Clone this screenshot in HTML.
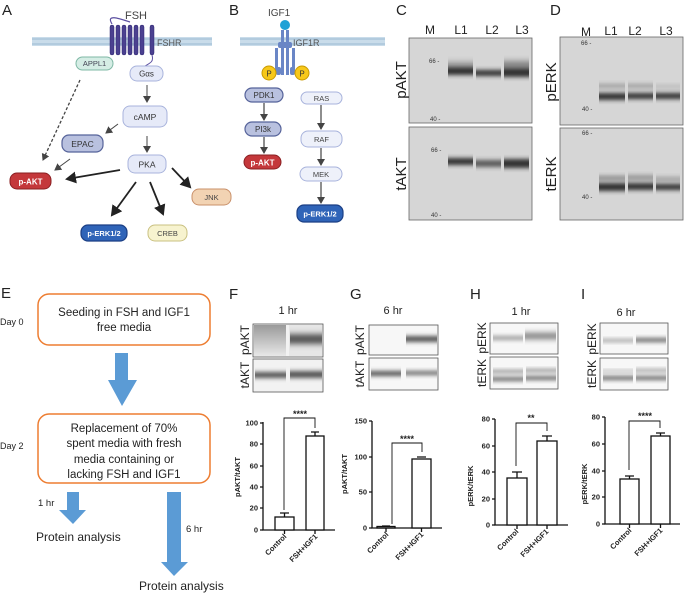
<!DOCTYPE html>
<html><head><meta charset="utf-8"><style>
html,body{margin:0;padding:0;background:#fff}
svg{display:block;font-family:"Liberation Sans",Arial,sans-serif}
</style></head><body>
<svg width="685" height="594" viewBox="0 0 685 594" xmlns="http://www.w3.org/2000/svg">
<defs>
<filter id="b1" x="-20%" y="-100%" width="140%" height="300%"><feGaussianBlur stdDeviation="0.3 2"/></filter>
<filter id="b2" x="-20%" y="-100%" width="140%" height="300%"><feGaussianBlur stdDeviation="0.3 3"/></filter>
<marker id="ah" markerWidth="8" markerHeight="8" refX="6" refY="4" orient="auto" markerUnits="userSpaceOnUse"><path d="M0,0 L7,4 L0,8 z" fill="#444"/></marker>
<marker id="ahb" markerWidth="12" markerHeight="12" refX="9" refY="6" orient="auto" markerUnits="userSpaceOnUse"><path d="M0,0 L11,6 L0,12 z" fill="#222"/></marker>
<linearGradient id="fl" x1="0" y1="0" x2="0" y2="1"><stop offset="0" stop-color="#9a9a9a"/><stop offset="1" stop-color="#e8e8e8"/></linearGradient>
</defs>

<g font-size="15" fill="#222">
<text x="2" y="15">A</text><text x="229" y="15">B</text><text x="396" y="15">C</text><text x="550" y="15">D</text>
<text x="1" y="298">E</text><text x="229" y="299">F</text><text x="350" y="299">G</text><text x="470" y="299">H</text><text x="581" y="299">I</text>
</g>

<!-- Panel A -->
<rect x="32" y="37" width="180" height="9" fill="#c9dcea"/>
<line x1="32" y1="39" x2="212" y2="39" stroke="#9cbad2" stroke-width="1"/>
<line x1="32" y1="44" x2="212" y2="44" stroke="#9cbad2" stroke-width="1"/>
<path d="M112,24 C106,14 118,18 130,22" fill="none" stroke="#5a4ea0" stroke-width="1.2"/>
<g fill="#4b4190" stroke="#2e2870" stroke-width="0.5">
<rect x="110" y="25" width="4" height="30" rx="2"/><rect x="116" y="25" width="4" height="30" rx="2"/>
<rect x="122" y="25" width="4" height="30" rx="2"/><rect x="128" y="25" width="4" height="30" rx="2"/>
<rect x="134" y="25" width="4" height="30" rx="2"/><rect x="140" y="25" width="4" height="30" rx="2"/>
<rect x="150" y="25" width="4" height="30" rx="2"/>
</g>
<path d="M152,55 C154,62 150,63 145,66" fill="none" stroke="#5a4ea0" stroke-width="1"/>
<text x="125" y="19" font-size="11" fill="#444">FSH</text>
<text x="157" y="46" font-size="9" fill="#555">FSHR</text>

<g font-size="7.5" text-anchor="middle">
<rect x="76" y="57" width="37" height="13" rx="6.5" fill="#d5ede5" stroke="#7fb8a5"/><text x="94.5" y="66" fill="#445">APPL1</text>
<rect x="130" y="66" width="33" height="15" rx="7" fill="#e6eaf8" stroke="#a8b3dc"/><text x="146.5" y="76.5" fill="#333" font-size="8">Gαs</text>
<rect x="123" y="106" width="44" height="21" rx="7" fill="#e6eaf8" stroke="#a8b3dc"/><text x="145" y="120" fill="#333" font-size="8.5">cAMP</text>
<rect x="62" y="135" width="41" height="17" rx="7" fill="#b9c1df" stroke="#56639a" stroke-width="1.2"/><text x="82.5" y="147" fill="#333" font-size="8.5">EPAC</text>
<rect x="128" y="155" width="38" height="18" rx="7" fill="#e6eaf8" stroke="#a8b3dc"/><text x="147" y="167.5" fill="#333" font-size="8.5">PKA</text>
<rect x="10" y="173" width="41" height="16" rx="7" fill="#c4383b" stroke="#8a1f22"/><text x="30.5" y="184.5" fill="#fff" font-weight="bold" font-size="8">p-AKT</text>
<rect x="192" y="189" width="39" height="16" rx="7" fill="#f2d3b3" stroke="#c9906a"/><text x="211.5" y="200" fill="#444">JNK</text>
<rect x="81" y="225" width="46" height="16" rx="7" fill="#2f64b8" stroke="#1b3f85" stroke-width="1.2"/><text x="104" y="236" fill="#fff" font-weight="bold" font-size="7.5">p-ERK1/2</text>
<rect x="148" y="225" width="39" height="16" rx="7" fill="#f7f3cf" stroke="#c9c080"/><text x="167.5" y="236" fill="#444">CREB</text>
</g>
<g stroke="#444" stroke-width="1" fill="none">
<line x1="147" y1="85" x2="147" y2="102" marker-end="url(#ah)"/>
<line x1="118" y1="124" x2="106" y2="133" marker-end="url(#ah)"/>
<line x1="147" y1="136" x2="147" y2="152" marker-end="url(#ah)"/>
<line x1="70" y1="159" x2="55" y2="170" marker-end="url(#ah)"/>
<line x1="80" y1="80" x2="43" y2="160" stroke-dasharray="3,2" stroke-width="1.3" marker-end="url(#ah)"/>
</g>
<g stroke="#222" stroke-width="1.8" fill="none">
<line x1="120" y1="170" x2="67" y2="179" marker-end="url(#ahb)"/>
<line x1="136" y1="182" x2="112" y2="215" marker-end="url(#ahb)"/>
<line x1="150" y1="182" x2="163" y2="214" marker-end="url(#ahb)"/>
<line x1="172" y1="168" x2="190" y2="187" marker-end="url(#ahb)"/>
</g>

<!-- Panel B -->
<rect x="240" y="37" width="145" height="9" fill="#c9dcea"/>
<line x1="240" y1="39" x2="385" y2="39" stroke="#9cbad2"/>
<line x1="240" y1="44" x2="385" y2="44" stroke="#9cbad2"/>
<text x="268" y="16" font-size="10" fill="#444">IGF1</text>
<circle cx="285" cy="25" r="5" fill="#1ea1d6"/>
<g fill="#6a86c6">
<rect x="281" y="30" width="3" height="45"/><rect x="286" y="30" width="3" height="45"/>
<rect x="278" y="42" width="14" height="6" rx="2"/>
<rect x="275" y="48" width="3" height="25"/><rect x="292" y="48" width="3" height="25"/>
<rect x="276" y="67" width="5" height="8" rx="2"/><rect x="290" y="67" width="5" height="8" rx="2"/>
</g>
<text x="293" y="46" font-size="9" fill="#555">IGF1R</text>
<circle cx="269" cy="73" r="7" fill="#f7c81a" stroke="#c99a00"/><text x="269" y="76.5" font-size="8" text-anchor="middle" fill="#333">P</text>
<circle cx="302" cy="73" r="7" fill="#f7c81a" stroke="#c99a00"/><text x="302" y="76.5" font-size="8" text-anchor="middle" fill="#333">P</text>
<g font-size="8" text-anchor="middle">
<rect x="245" y="88" width="38" height="14" rx="7" fill="#b9c1df" stroke="#56639a" stroke-width="1.2"/><text x="264" y="98" fill="#333">PDK1</text>
<rect x="245" y="122" width="36" height="14" rx="7" fill="#b9c1df" stroke="#56639a" stroke-width="1.2"/><text x="263" y="132" fill="#333">PI3k</text>
<rect x="244" y="155" width="37" height="14" rx="7" fill="#c4383b" stroke="#8a1f22"/><text x="262.5" y="165.5" fill="#fff" font-weight="bold">p-AKT</text>
<rect x="301" y="92" width="41" height="12" rx="6" fill="#eef1fa" stroke="#a8b3dc"/><text x="321.5" y="101" fill="#444" font-size="7.5">RAS</text>
<rect x="301" y="131" width="41" height="16" rx="7" fill="#eef1fa" stroke="#a8b3dc"/><text x="321.5" y="142" fill="#444" font-size="7.5">RAF</text>
<rect x="300" y="167" width="42" height="14" rx="7" fill="#eef1fa" stroke="#a8b3dc"/><text x="321" y="177" fill="#444" font-size="7.5">MEK</text>
<rect x="297" y="205" width="46" height="17" rx="7" fill="#2f64b8" stroke="#1b3f85" stroke-width="1.2"/><text x="320" y="216.5" fill="#fff" font-weight="bold" font-size="7.5">p-ERK1/2</text>
</g>
<g stroke="#444" stroke-width="1.2">
<line x1="264" y1="103" x2="264" y2="120" marker-end="url(#ah)"/>
<line x1="264" y1="137" x2="264" y2="153" marker-end="url(#ah)"/>
<line x1="321" y1="105" x2="321" y2="129" marker-end="url(#ah)"/>
<line x1="321" y1="148" x2="321" y2="165" marker-end="url(#ah)"/>
<line x1="321" y1="182" x2="321" y2="203" marker-end="url(#ah)"/>
</g>

<!-- Panel C -->
<g font-size="12" fill="#222" text-anchor="middle">
<text x="430" y="34">M</text><text x="461" y="34">L1</text><text x="492" y="34">L2</text><text x="522" y="34">L3</text>
<text x="586" y="36">M</text><text x="611" y="35">L1</text><text x="635" y="35">L2</text><text x="666" y="35">L3</text>
</g>
<rect x="409" y="38" width="123" height="85" fill="#d6d6d6" stroke="#666" stroke-width="0.8"/>
<rect x="409" y="127" width="123" height="93" fill="#d6d6d6" stroke="#666" stroke-width="0.8"/>
<g fill="#333" font-size="6"><text x="429" y="63">66 -</text><text x="430" y="121">40 -</text><text x="431" y="152">66 -</text><text x="431" y="217">40 -</text></g>
<g fill="#333">
<rect x="448" y="67" width="25" height="8" filter="url(#b1)"/><rect x="448" y="62" width="25" height="6" opacity="0.4" filter="url(#b2)"/>
<rect x="476" y="70" width="25" height="6" filter="url(#b1)"/>
<rect x="504" y="68" width="25" height="9" filter="url(#b1)"/><rect x="504" y="61" width="25" height="8" opacity="0.5" filter="url(#b2)"/>
<rect x="448" y="158" width="25" height="7" filter="url(#b1)"/>
<rect x="476" y="160" width="25" height="7" opacity="0.75" filter="url(#b1)"/>
<rect x="504" y="159" width="25" height="9" filter="url(#b1)"/>
</g>
<text transform="translate(406,80) rotate(-90)" font-size="15" text-anchor="middle" fill="#222">pAKT</text>
<text transform="translate(406,174) rotate(-90)" font-size="15" text-anchor="middle" fill="#222">tAKT</text>

<!-- Panel D -->
<rect x="560" y="37" width="123" height="88" fill="#d6d6d6" stroke="#666" stroke-width="0.8"/>
<rect x="560" y="128" width="123" height="92" fill="#d6d6d6" stroke="#666" stroke-width="0.8"/>
<g fill="#333" font-size="6"><text x="581" y="45">66 -</text><text x="582" y="111">40 -</text><text x="582" y="135">66 -</text><text x="582" y="199">40 -</text></g>
<g fill="#333">
<rect x="599" y="93" width="26" height="7" filter="url(#b1)"/><rect x="599" y="84" width="26" height="4" opacity="0.35" filter="url(#b1)"/>
<rect x="628" y="93" width="25" height="6" filter="url(#b1)"/><rect x="628" y="84" width="25" height="4" opacity="0.35" filter="url(#b1)"/>
<rect x="656" y="93" width="24" height="6" filter="url(#b1)"/><rect x="656" y="85" width="24" height="3" opacity="0.2" filter="url(#b1)"/>
<rect x="599" y="183" width="26" height="8" filter="url(#b1)"/><rect x="599" y="176" width="26" height="4" opacity="0.5" filter="url(#b1)"/>
<rect x="628" y="183" width="25" height="7" filter="url(#b1)"/><rect x="628" y="175" width="25" height="5" opacity="0.4" filter="url(#b1)"/>
<rect x="656" y="184" width="24" height="6" filter="url(#b1)"/><rect x="656" y="177" width="24" height="4" opacity="0.35" filter="url(#b1)"/>
</g>
<text transform="translate(556,82) rotate(-90)" font-size="15" text-anchor="middle" fill="#222">pERK</text>
<text transform="translate(556,174) rotate(-90)" font-size="15" text-anchor="middle" fill="#222">tERK</text>

<!-- Panel E -->
<g>
<rect x="38" y="294" width="172" height="51" rx="11" fill="#fff" stroke="#ed7d31" stroke-width="1.5"/>
<g font-size="11.5" fill="#222" text-anchor="middle"><text x="124" y="316">Seeding in FSH and IGF1</text><text x="124" y="331">free media</text></g>
<text x="0" y="325" font-size="9" fill="#222">Day 0</text>
<path d="M115,353 L128,353 L128,380 L137,380 L122,406 L108,380 L115,380 z" fill="#5b9bd5"/>
<rect x="38" y="414" width="172" height="69" rx="11" fill="#fff" stroke="#ed7d31" stroke-width="1.5"/>
<g font-size="11.5" fill="#222" text-anchor="middle"><text x="124" y="432">Replacement of 70%</text><text x="124" y="447">spent media with fresh</text><text x="124" y="463">media containing or</text><text x="124" y="478">lacking FSH and IGF1</text></g>
<text x="0" y="449" font-size="9" fill="#222">Day 2</text>
<path d="M67,492 L79,492 L79,510 L86,510 L73,524 L59,510 L67,510 z" fill="#5b9bd5"/>
<text x="38" y="506" font-size="9.5" fill="#222">1 hr</text>
<text x="36" y="541" font-size="12" fill="#222">Protein analysis</text>
<path d="M167,492 L181,492 L181,562 L188,562 L174,576 L161,562 L167,562 z" fill="#5b9bd5"/>
<text x="186" y="532" font-size="9.5" fill="#222">6 hr</text>
<text x="139" y="590" font-size="12" fill="#222">Protein analysis</text>
</g>

<!-- Blots F -->
<text x="288" y="314" font-size="11" text-anchor="middle" fill="#222">1 hr</text>
<rect x="253" y="324" width="70" height="33" fill="#f2f2f2" stroke="#555" stroke-width="0.8"/>
<rect x="254" y="325" width="32" height="31" fill="url(#fl)"/>
<rect x="289" y="325" width="33" height="31" fill="#e6e6e6"/>
<rect x="290" y="334" width="32" height="10" fill="#555" filter="url(#b2)"/>
<rect x="253" y="359" width="70" height="33" fill="#f2f2f2" stroke="#555" stroke-width="0.8"/>
<rect x="255" y="372" width="31" height="6" fill="#555" filter="url(#b1)"/>
<rect x="290" y="371" width="32" height="7" fill="#555" filter="url(#b1)"/>
<text transform="translate(249,340) rotate(-90)" font-size="12" text-anchor="middle" fill="#222">pAKT</text>
<text transform="translate(249,375) rotate(-90)" font-size="12" text-anchor="middle" fill="#222">tAKT</text>
<!-- Blots G -->
<text x="393" y="314" font-size="11" text-anchor="middle" fill="#222">6 hr</text>
<rect x="369" y="325" width="69" height="30" fill="#f7f7f7" stroke="#555" stroke-width="0.8"/>
<rect x="406" y="336" width="31" height="6" fill="#555" filter="url(#b1)"/>
<rect x="369" y="358" width="69" height="32" fill="#f7f7f7" stroke="#555" stroke-width="0.8"/>
<rect x="371" y="371" width="30" height="5" fill="#555" filter="url(#b1)"/>
<rect x="406" y="371" width="31" height="4" fill="#666" filter="url(#b1)"/>
<text transform="translate(364,340) rotate(-90)" font-size="12" text-anchor="middle" fill="#222">pAKT</text>
<text transform="translate(364,374) rotate(-90)" font-size="12" text-anchor="middle" fill="#222">tAKT</text>
<!-- Blots H -->
<text x="521" y="315" font-size="11" text-anchor="middle" fill="#222">1 hr</text>
<rect x="490" y="323" width="68" height="31" fill="#f7f7f7" stroke="#555" stroke-width="0.8"/>
<rect x="493" y="336" width="30" height="4" fill="#999" filter="url(#b1)"/>
<rect x="525" y="333" width="31" height="6" fill="#777" filter="url(#b2)"/>
<rect x="490" y="357" width="68" height="32" fill="#f7f7f7" stroke="#555" stroke-width="0.8"/>
<rect x="493" y="370" width="30" height="3" fill="#888" filter="url(#b1)"/><rect x="493" y="377" width="30" height="4" fill="#666" filter="url(#b1)"/>
<rect x="526" y="369" width="30" height="3" fill="#888" filter="url(#b1)"/><rect x="526" y="376" width="30" height="4" fill="#666" filter="url(#b1)"/>
<text transform="translate(486,338) rotate(-90)" font-size="12" text-anchor="middle" fill="#222">pERK</text>
<text transform="translate(486,373) rotate(-90)" font-size="12" text-anchor="middle" fill="#222">tERK</text>
<!-- Blots I -->
<text x="626" y="316" font-size="11" text-anchor="middle" fill="#222">6 hr</text>
<rect x="600" y="323" width="68" height="31" fill="#f7f7f7" stroke="#555" stroke-width="0.8"/>
<rect x="603" y="339" width="30" height="3" fill="#999" filter="url(#b1)"/>
<rect x="636" y="338" width="30" height="4" fill="#666" filter="url(#b1)"/>
<rect x="600" y="358" width="68" height="32" fill="#f7f7f7" stroke="#555" stroke-width="0.8"/>
<rect x="603" y="370" width="30" height="2" fill="#aaa" filter="url(#b1)"/><rect x="603" y="376" width="30" height="4" fill="#666" filter="url(#b1)"/>
<rect x="636" y="369" width="30" height="3" fill="#999" filter="url(#b1)"/><rect x="636" y="376" width="30" height="4" fill="#666" filter="url(#b1)"/>
<text transform="translate(596,339) rotate(-90)" font-size="12" text-anchor="middle" fill="#222">pERK</text>
<text transform="translate(596,374) rotate(-90)" font-size="12" text-anchor="middle" fill="#222">tERK</text>

<!-- Charts -->
<g stroke="#111" stroke-width="1.3" fill="none">
<path d="M263,422 L263,530 L335,530"/>
<path d="M260,423H263M260,444H263M260,466H263M260,487H263M260,508H263M260,530H263"/>
<rect x="275" y="517" width="19" height="13" fill="#fff"/><rect x="306" y="436" width="18" height="94" fill="#fff"/>
<path d="M284.5,517V513M280,513H289M315,436V432M311,432H319"/>
<path d="M284,510V418H315V428" stroke-width="0.9"/>
<path d="M284.5,530V534M315,530V534"/>
<path d="M372,421 L372,528 L442,528"/>
<path d="M369,421H372M369,457H372M369,492H372M369,528H372"/>
<rect x="377" y="526.5" width="18" height="1.5" fill="#fff"/><rect x="412" y="459" width="19" height="69" fill="#fff"/>
<path d="M382,526H390M417,457H426"/>
<path d="M392,524V443H422V452" stroke-width="0.9"/>
<path d="M386,528V532M421.5,528V532"/>
<path d="M495,419 L495,525 L568,525"/>
<path d="M492,419H495M492,446H495M492,472H495M492,499H495M492,525H495"/>
<rect x="507" y="478" width="20" height="47" fill="#fff"/><rect x="537" y="441" width="20" height="84" fill="#fff"/>
<path d="M517,478V472M512,472H522M547,441V436M542,436H552"/>
<path d="M516,466V423H547V431" stroke-width="0.9"/>
<path d="M517,525V529M547,525V529"/>
<path d="M605,417 L605,524 L680,524"/>
<path d="M602,417H605M602,444H605M602,471H605M602,497H605M602,524H605"/>
<rect x="620" y="479" width="19" height="45" fill="#fff"/><rect x="651" y="436" width="19" height="88" fill="#fff"/>
<path d="M629.5,479V476M625,476H634M660.5,436V433M656,433H665"/>
<path d="M629,470V421H660V428" stroke-width="0.9"/>
<path d="M629.5,524V528M660.5,524V528"/>
</g>
<g font-size="7.5" font-weight="bold" fill="#222" text-anchor="end">
<text x="258" y="425.5">100</text><text x="258" y="446.5">80</text><text x="258" y="468.5">60</text><text x="258" y="489.5">40</text><text x="258" y="510.5">20</text><text x="258" y="532.5">0</text>
<text x="367" y="423.5">150</text><text x="367" y="459.5">100</text><text x="367" y="494.5">50</text><text x="367" y="530.5">0</text>
<text x="490" y="421.5">80</text><text x="490" y="448.5">60</text><text x="490" y="474.5">40</text><text x="490" y="501.5">20</text><text x="490" y="527.5">0</text>
<text x="600" y="419.5">80</text><text x="600" y="446.5">60</text><text x="600" y="473.5">40</text><text x="600" y="499.5">20</text><text x="600" y="526.5">0</text>
</g>
<g font-size="9" font-weight="bold" fill="#222" text-anchor="middle">
<text x="300" y="417">****</text><text x="407" y="442">****</text><text x="531" y="421">**</text><text x="645" y="419">****</text>
</g>
<g font-size="7.5" font-weight="bold" fill="#222" text-anchor="middle">
<text transform="translate(240,477) rotate(-90)">pAKT/tAKT</text>
<text transform="translate(347,474) rotate(-90)">pAKT/tAKT</text>
<text transform="translate(473,486) rotate(-90)">pERK/tERK</text>
<text transform="translate(587,484) rotate(-90)">pERK/tERK</text>
</g>
<g font-size="7.5" font-weight="bold" fill="#222" text-anchor="end">
<text transform="translate(287,537) rotate(-45)">Control</text>
<text transform="translate(318,537) rotate(-45)">FSH+IGF1</text>
<text transform="translate(389,535) rotate(-45)">Control</text>
<text transform="translate(424,535) rotate(-45)">FSH+IGF1</text>
<text transform="translate(519,532) rotate(-45)">Control</text>
<text transform="translate(549,532) rotate(-45)">FSH+IGF1</text>
<text transform="translate(632,531) rotate(-45)">Control</text>
<text transform="translate(663,531) rotate(-45)">FSH+IGF1</text>
</g>
</svg>
</body></html>
